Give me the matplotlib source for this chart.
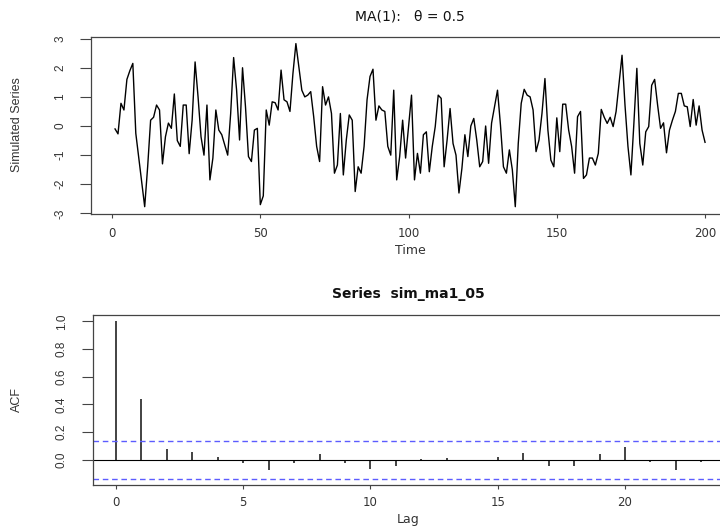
import numpy as np
import matplotlib.pyplot as plt

# simulated MA(1) series, theta = 0.5
sim_ma1_05 = [
    -0.10, -0.27, 0.78, 0.55, 1.60, 1.90, 2.15, -0.25, -1.10, -1.97,
    -2.77, -1.40, 0.20, 0.30, 0.72, 0.55, -1.30, -0.37, 0.10, -0.08,
    1.10, -0.50, -0.70, 0.72, 0.72, -0.95, 0.20, 2.20, 1.00, -0.37,
    -1.00, 0.72, -1.85, -1.10, 0.55, -0.14, -0.30, -0.65, -1.00, 0.43,
    2.35, 1.23, -0.48, 2.00, 0.66, -1.05, -1.22, -0.14, -0.08, -2.70,
    -2.40, 0.55, 0.03, 0.83, 0.80, 0.55, 1.92, 0.90, 0.83, 0.50,
    1.80, 2.83, 2.03, 1.23, 1.00, 1.06, 1.18, 0.32, -0.70, -1.22,
    1.35, 0.72, 1.00, 0.43, -1.62, -1.34, 0.43, -1.68, -0.48, 0.38,
    0.20, -2.25, -1.40, -1.62, -0.70, 0.90, 1.70, 1.95, 0.20, 0.69,
    0.55, 0.50, -0.70, -1.00, 1.23, -1.85, -1.05, 0.20, -1.10, 0.00,
    1.06, -1.85, -0.94, -1.62, -0.30, -0.20, -1.57, -0.70, -0.02, 1.06,
    0.95, -1.40, -0.48, 0.60, -0.60, -1.00, -2.30, -1.45, -0.30, -1.05,
    0.00, 0.26, -0.48, -1.40, -1.22, 0.00, -1.28, 0.10, 0.66, 1.23,
    0.03, -1.40, -1.62, -0.82, -1.50, -2.77, -0.60, 0.78, 1.26, 1.06,
    1.00, 0.55, -0.88, -0.48, 0.43, 1.63, -0.14, -1.17, -1.40, 0.28,
    -0.88, 0.75, 0.75, -0.14, -0.70, -1.62, 0.32, 0.50, -1.80, -1.68,
    -1.10, -1.10, -1.34, -0.94, 0.57, 0.30, 0.09, 0.30, -0.02, 0.50,
    1.46, 2.43, 0.72, -0.70, -1.68, 0.09, 1.98, -0.60, -1.34, -0.20,
    -0.02, 1.40, 1.60, 0.72, -0.08, 0.11, -0.92, -0.14, 0.20, 0.50,
    1.12, 1.12, 0.69, 0.66, -0.02, 0.91, 0.03, 0.69, -0.14, -0.56,
]
time = np.arange(1, len(sim_ma1_05) + 1)

lags = np.arange(0, 24)
acf_vals = [1.0, 0.438, 0.08, 0.056, 0.02, -0.023, -0.073, -0.02, 0.044,
            -0.022, -0.065, -0.044, 0.003, 0.012, -0.005, 0.024, 0.048,
            -0.048, -0.046, 0.041, 0.094, -0.015, -0.073, -0.015]
conf = 1.96 / np.sqrt(len(sim_ma1_05))

plt.rcParams['font.family'] = ['DejaVu Sans']
plt.rcParams['axes.unicode_minus'] = False
narrow = ['Liberation Sans Narrow', 'Liberation Sans']
axis_col = '#444444'
text_col = '#333333'

fig = plt.figure(figsize=(7.2, 5.27), dpi=100)

# top panel: the series
ax1 = fig.add_axes([0.127, 0.594, 0.885, 0.336])
ax1.plot(time, sim_ma1_05, color='black', linewidth=1.0)
ax1.set_xlim(-6.96, 207.96)
ax1.set_ylim(-3.02, 3.06)
ax1.set_xticks([0, 50, 100, 150, 200])
ax1.set_yticks([-3, -2, -1, 0, 1, 2, 3])

# bottom panel: ACF
ax2 = fig.add_axes([0.1286, 0.0791, 0.878, 0.323])
ax2.vlines(lags, 0, acf_vals, color='#222222', linewidth=1.2)
ax2.axhline(0, color='black', linewidth=0.8)
for c in (conf, -conf):
    ax2.axhline(c, color='#5c5cff', linewidth=1.0, linestyle=(0, (4, 2.7)))
ax2.set_xlim(-0.92, 23.92)
ax2.set_ylim(-0.184, 1.0455)
ax2.set_xticks([0, 5, 10, 15, 20])
ax2.set_yticks([0.0, 0.2, 0.4, 0.6, 0.8, 1.0])
ax2.set_yticklabels(['0.0', '0.2', '0.4', '0.6', '0.8', '1.0'])

for ax, xpad in ((ax1, 6.5), (ax2, 5)):
    for s in ax.spines.values():
        s.set_color(axis_col)
        s.set_linewidth(0.9)
    ax.tick_params(axis='x', direction='out', length=3, width=0.8,
                   color=axis_col, labelcolor=text_col, labelsize=8.5, pad=xpad)
    ax.tick_params(axis='y', direction='out', length=8, width=0.8,
                   color=axis_col, labelcolor=text_col, pad=10)
    plt.setp(ax.get_yticklabels(), rotation=90, va='center', ha='right',
             family=narrow, fontsize=8.5)

# titles and axis labels (R layout)
fig.text(410 / 720, 1 - 17 / 527, 'MA(1):   θ = 0.5', ha='center', va='center',
         fontsize=10, color='#111111')
fig.text(408 / 720, 1 - 294 / 527, 'Series  sim_ma1_05', ha='center', va='center',
         fontsize=10, fontweight='bold', color='#111111')
fig.text(410 / 720, 1 - 250 / 527, 'Time', ha='center', va='center',
         fontsize=9, color=text_col)
fig.text(408 / 720, 1 - 519 / 527, 'Lag', ha='center', va='center',
         fontsize=9, color=text_col)
fig.text(17 / 720, 1 - 125 / 527, 'Simulated Series', ha='center', va='center',
         rotation=90, family=narrow, fontsize=9, color=text_col)
fig.text(17 / 720, 1 - 400 / 527, 'ACF', ha='center', va='center',
         rotation=90, family=narrow, fontsize=9, color=text_col)

fig.savefig('out.png', dpi=100)
